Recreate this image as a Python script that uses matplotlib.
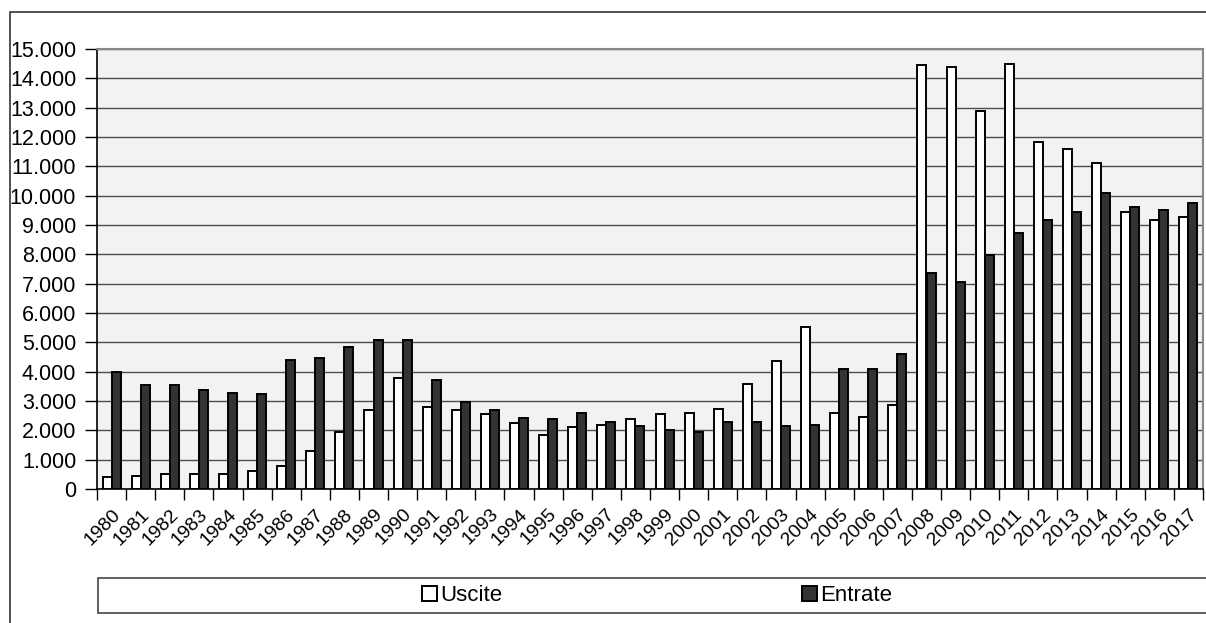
import numpy as np
import matplotlib.pyplot as plt
from matplotlib.patches import Rectangle
from matplotlib.ticker import FuncFormatter, FixedLocator

plt.rcParams["font.family"] = ["Liberation Sans", "DejaVu Sans"]

# data
years = list(range(1980, 2018))
uscite = [400, 450, 520, 500, 500, 600, 780, 1280, 1930, 2700,
          3780, 2800, 2700, 2550, 2250, 1830, 2100, 2180, 2390, 2560,
          2580, 2720, 3580, 4380, 5520, 2590, 2470, 2880, 14450, 14400,
          12900, 14500, 11830, 11580, 11130, 9450, 9180, 9260]
entrate = [4000, 3530, 3530, 3390, 3270, 3230, 4400, 4470, 4830, 5080,
           5080, 3720, 2960, 2680, 2430, 2370, 2600, 2300, 2140, 2010,
           1950, 2290, 2280, 2150, 2180, 4100, 4090, 4600, 7360, 7050,
           7970, 8720, 9170, 9450, 10100, 9620, 9520, 9760]
series_names = ["Uscite", "Entrate"]

W, H = 1206, 623
fig = plt.figure(figsize=(W / 100, H / 100), dpi=100)

# outer frame of the figure (cut by the right and bottom edges)
fig.patches.append(Rectangle((10 / W, -0.1), 1.2, 1 - 12 / H + 0.1,
                             transform=fig.transFigure, fill=False,
                             edgecolor="#333333", lw=1.2))

ax = fig.add_axes([97 / W, 1 - 489 / H, (1203 - 97) / W, (489 - 49) / H])
ax.set_facecolor("#f2f2f2")

x = np.arange(len(years))
bw = 0.31
ax.bar(x - bw / 2, uscite, bw, color="white", edgecolor="black", lw=1.4,
       label=series_names[0], zorder=3)
ax.bar(x + bw / 2, entrate, bw, color="#333333", edgecolor="black", lw=1.4,
       label=series_names[1], zorder=3)

ax.set_xlim(-0.5, len(years) - 0.5)
ax.set_ylim(0, 15000)
ax.set_yticks(np.arange(0, 15001, 1000))
ax.yaxis.set_major_formatter(FuncFormatter(lambda v, p: f"{int(v):,}".replace(",", ".")))
ax.yaxis.grid(True, color="#4d4d4d", lw=1.0, zorder=1)
ax.tick_params(axis="y", labelsize=15.5, length=9, width=1, pad=6, direction="out")

# ticks between categories, labels under the category centres
ax.xaxis.set_major_locator(FixedLocator(np.arange(-0.5, len(years), 1)))
ax.set_xticklabels([])
ax.xaxis.set_minor_locator(FixedLocator(x))
ax.set_xticklabels([str(y) for y in years], minor=True, rotation=45,
                   ha="right", va="top", rotation_mode="anchor", fontsize=14)
ax.tick_params(axis="x", which="major", length=8, width=1, direction="out")
ax.tick_params(axis="x", which="minor", length=0, pad=12)

for s in ["left", "bottom"]:
    ax.spines[s].set_color("black")
    ax.spines[s].set_linewidth(1.2)
for s in ["top", "right"]:
    ax.spines[s].set_color("#888888")
    ax.spines[s].set_linewidth(1.5)

# legend box that runs past the right edge
fig.patches.append(Rectangle((98 / W, 1 - 613 / H), 1.2, 35 / H,
                             transform=fig.transFigure, facecolor="white",
                             edgecolor="#444444", lw=1.2))
fig.legend(loc="center", bbox_to_anchor=(657 / W, 1 - 595.5 / H), ncol=2,
           frameon=False, fontsize=16, handlelength=0.65, handleheight=0.65,
           handletextpad=0.15, columnspacing=13.5)

plt.savefig("out.png", dpi=100)
